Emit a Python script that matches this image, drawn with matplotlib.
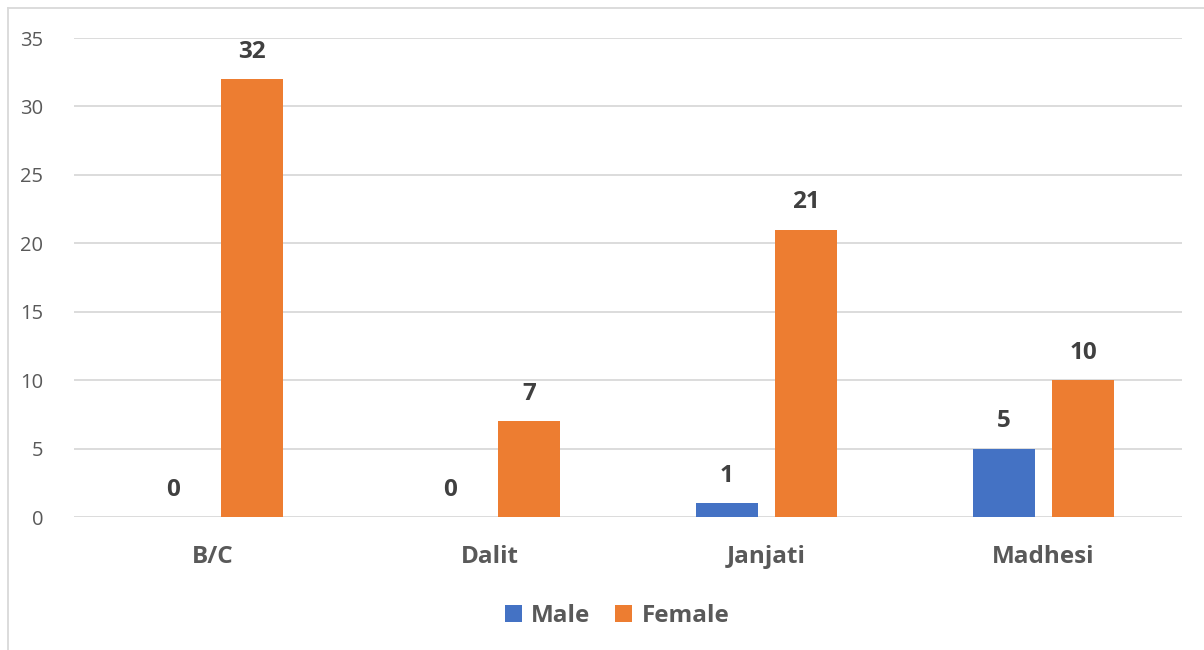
import matplotlib.pyplot as plt
import numpy as np

categories = ["B/C", "Dalit", "Janjati", "Madhesi"]
male = [0, 0, 1, 5]
female = [32, 7, 21, 10]
yticks = [0, 5, 10, 15, 20, 25, 30, 35]

plt.rcParams['font.family'] = ['Open Sans', 'DejaVu Sans']

fig = plt.figure(figsize=(12.04, 6.5), dpi=100)
ax = fig.add_axes([0.0615, 0.2046, 0.9202, 0.7369])

x = np.arange(len(categories))
w = 0.224
off = 0.1426
b1 = ax.bar(x - off, male, w, color="#4472C4", label="Male", zorder=3)
b2 = ax.bar(x + off, female, w, color="#ED7D31", label="Female", zorder=3)

for bars in (b1, b2):
    for r in bars:
        ax.annotate(str(int(r.get_height())),
                    (r.get_x() + r.get_width() / 2, r.get_height()),
                    xytext=(0, 11), textcoords="offset points",
                    ha="center", va="bottom", fontsize=17.5, fontweight="bold",
                    color="#404040")

ax.set_xlim(-0.5, 3.5)
ax.set_ylim(0, 35)
ax.set_yticks(yticks)
ax.set_xticks(x)
ax.set_xticklabels(categories, fontsize=17.5, fontweight="bold", color="#595959")
ax.tick_params(axis="y", labelsize=14.5, labelcolor="#595959", length=0, pad=22)
ax.tick_params(axis="x", length=0, pad=20)
ax.grid(axis="y", color="#D9D9D9", linewidth=1.3, zorder=0)
for s in ax.spines.values():
    s.set_visible(False)

leg = ax.legend(loc="upper center", bbox_to_anchor=(0.49, -0.135), ncol=2,
                frameon=False, prop={"size": 17.5, "weight": "bold"},
                handlelength=0.7, handleheight=0.7, handletextpad=0.4,
                columnspacing=1.0)
for t in leg.get_texts():
    t.set_color("#595959")

# outer chart frame (top and left edges visible)
fig.add_artist(plt.Line2D([8 / 1204, 1], [1 - 8 / 650, 1 - 8 / 650],
                          color="#D9D9D9", linewidth=1.3, transform=fig.transFigure))
fig.add_artist(plt.Line2D([8 / 1204, 8 / 1204], [0, 1 - 8 / 650],
                          color="#D9D9D9", linewidth=1.3, transform=fig.transFigure))

fig.savefig("out.png", dpi=100, facecolor="white")
